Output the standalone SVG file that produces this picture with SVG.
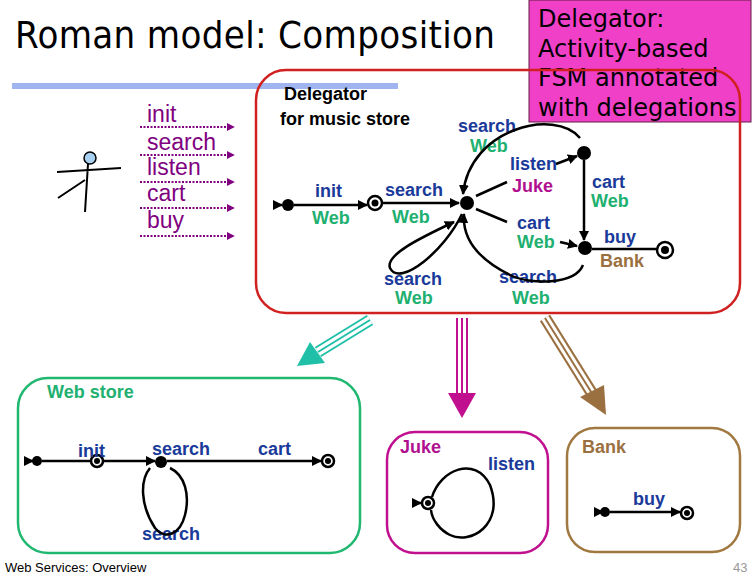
<svg xmlns="http://www.w3.org/2000/svg" width="756" height="576" viewBox="0 0 756 576">
<style>
.b{font-family:"Liberation Sans",Arial,sans-serif;font-weight:bold;font-size:18px}
.bl{fill:#1a3a9a}.gr{fill:#20b070}.pu{fill:#b0108f}.br{fill:#9b7040}
.e{stroke:#000;stroke-width:2.5;fill:none}
.dot{fill:#000}
.pl{font-family:"Liberation Sans",Arial,sans-serif;font-size:23px;fill:#800080}
.dl{stroke:#800080;stroke-width:2;stroke-dasharray:2,1.5}
</style>
<defs>
<marker id="a" viewBox="0 0 10 10" refX="9" refY="5" markerWidth="4" markerHeight="4" orient="auto"><path d="M0,0L10,5L0,10z" fill="#000"/></marker>
<marker id="p" viewBox="0 0 10 10" refX="9" refY="5" markerWidth="4" markerHeight="4" orient="auto"><path d="M0,0L10,5L0,10z" fill="#800080"/></marker>
</defs>
<rect width="756" height="576" fill="#fff"/>
<g id="title">
<text x="15" y="48" font-family="DejaVu Sans Condensed,DejaVu Sans,sans-serif" font-size="38" textLength="480">Roman model: Composition</text>
<rect x="12" y="83" width="386" height="6" fill="#a0b4f0"/>
</g>
<g id="note">
<rect x="529" y="0" width="222" height="122" fill="#f040c8" stroke="#602040"/>
<g font-family="DejaVu Sans,sans-serif" font-size="24" fill="#000">
<text x="538" y="27">Delegator:</text><text x="538" y="57">Activity-based</text><text x="538" y="86">FSM annotated</text><text x="538" y="116">with delegations</text></g>
</g>
<g id="client">
<circle cx="90" cy="158" r="6" fill="#a8d0f0" stroke="#000" stroke-width="1.5"/>
<path d="M88,164L85,212M57,172L121,168M58,198L85,180" stroke="#000" stroke-width="2" fill="none"/>
<text class="pl" x="147" y="122">init</text><text class="pl" x="147" y="150">search</text><text class="pl" x="147" y="175">listen</text><text class="pl" x="147" y="201">cart</text><text class="pl" x="147" y="228">buy</text>
<path class="dl" d="M140,127H234" marker-end="url(#p)"/><path class="dl" d="M140,155H234" marker-end="url(#p)"/><path class="dl" d="M140,182H234" marker-end="url(#p)"/><path class="dl" d="M140,208H234" marker-end="url(#p)"/><path class="dl" d="M140,236H234" marker-end="url(#p)"/>
</g>
<g id="delegator">
<rect x="256" y="70" width="484" height="243" rx="30" fill="none" stroke="#d02020" stroke-width="2.5"/>
<text class="b" x="284" y="100" fill="#000">Delegator</text><text class="b" x="280" y="125" fill="#000">for music store</text>
<circle class="dot" cx="288" cy="205" r="6"/><circle cx="375" cy="203" r="7" fill="#fff" stroke="#000" stroke-width="2.5"/><circle class="dot" cx="375" cy="203" r="3.5"/>
<circle class="dot" cx="467" cy="203" r="7"/><circle class="dot" cx="584" cy="153" r="7"/><circle class="dot" cx="585" cy="248" r="7"/>
<circle cx="665" cy="250" r="8" fill="#fff" stroke="#000" stroke-width="2.5"/><circle class="dot" cx="665" cy="250" r="4"/>
<text class="b bl" x="315" y="197">init</text><text class="b gr" x="312" y="224">Web</text>
<text class="b bl" x="385" y="196">search</text><text class="b gr" x="392" y="223">Web</text>
<text class="b bl" x="458" y="132">search</text><text class="b gr" x="470" y="152">Web</text>
<text class="b bl" x="510" y="170">listen</text><text class="b pu" x="512" y="192">Juke</text>
<text class="b bl" x="592" y="188">cart</text><text class="b gr" x="591" y="207">Web</text>
<text class="b bl" x="517" y="229">cart</text><text class="b gr" x="517" y="248">Web</text>
<text class="b bl" x="604" y="243">buy</text><text class="b br" x="600" y="267">Bank</text>
<text class="b bl" x="384" y="285">search</text><text class="b gr" x="395" y="304">Web</text>
<text class="b bl" x="499" y="283">search</text><text class="b gr" x="512" y="304">Web</text>
</g>
<g id="webstore">
<rect x="18" y="378" width="342" height="175" rx="30" fill="none" stroke="#20b870" stroke-width="2.5"/>
<text class="b gr" x="47" y="398">Web store</text>
<circle class="dot" cx="37" cy="461" r="5"/><circle cx="97" cy="461" r="6" fill="#fff" stroke="#000" stroke-width="2.5"/><circle class="dot" cx="97" cy="461" r="3"/>
<circle class="dot" cx="161" cy="462" r="6"/><circle cx="328" cy="461" r="6" fill="#fff" stroke="#000" stroke-width="2.5"/><circle class="dot" cx="328" cy="461" r="3"/>
<text class="b bl" x="78" y="457">init</text><text class="b bl" x="152" y="455">search</text><text class="b bl" x="258" y="455">cart</text><text class="b bl" x="142" y="540">search</text>
</g>
<g id="juke">
<rect x="387" y="432" width="161" height="121" rx="28" fill="none" stroke="#c0108f" stroke-width="2.5"/>
<text class="b pu" x="400" y="453">Juke</text><text class="b bl" x="488" y="470">listen</text>
<circle cx="428" cy="503" r="6" fill="#fff" stroke="#000" stroke-width="2.5"/><circle class="dot" cx="428" cy="503" r="3"/>
</g>
<g id="bank">
<rect x="567" y="428" width="173" height="124" rx="28" fill="none" stroke="#a07840" stroke-width="2.5"/>
<text class="b br" x="582" y="453">Bank</text><text class="b bl" x="633" y="505">buy</text>
<circle class="dot" cx="605" cy="512" r="5"/><circle cx="687" cy="513" r="6" fill="#fff" stroke="#000" stroke-width="2.5"/><circle class="dot" cx="687" cy="513" r="3"/>
</g>
<g id="connectors">
<path class="e" marker-end="url(#a)" d="M278,205H282"/>
<path class="e" marker-end="url(#a)" d="M294,205H367"/>
<path class="e" marker-end="url(#a)" d="M383,203H459"/>
<path class="e" d="M476,196L507,182"/><path class="e" marker-end="url(#a)" d="M556,164L577,156"/>
<path class="e" d="M476,209L507,222"/><path class="e" marker-end="url(#a)" d="M560,242L577,246"/>
<path class="e" marker-end="url(#a)" d="M584,160V240"/>
<path class="e" d="M592,249H657"/>
<path class="e" marker-end="url(#a)" d="M580,138C555,108 470,128 463,194"/>
<path class="e" marker-end="url(#a)" d="M462,214C445,250 400,288 390,268C385,255 420,238 454,222"/>
<path class="e" marker-end="url(#a)" d="M583,265C575,285 530,285 510,275C480,260 462,240 464,214"/>
<path class="e" marker-end="url(#a)" d="M27,461H33"/>
<path class="e" d="M42,461H91"/>
<path class="e" marker-end="url(#a)" d="M104,461H155"/>
<path class="e" marker-end="url(#a)" d="M167,461H321"/>
<path class="e" d="M170,468C185,475 190,495 185,515C180,535 165,540 155,528C140,505 140,480 150,468"/>
<path class="e" marker-end="url(#a)" d="M416,503H421"/>
<path class="e" d="M432,497C440,470 475,455 490,485C505,525 470,545 450,535C440,530 432,520 431,510"/>
<path class="e" marker-end="url(#a)" d="M597,512H603"/>
<path class="e" marker-end="url(#a)" d="M610,512H680"/>
<g>
<path d="M370,320L318,352" stroke="#20c0a8" stroke-width="12"/><path d="M370,320L318,352" stroke="#fff" stroke-width="8"/><path d="M370,320L318,352" stroke="#20c0a8" stroke-width="2"/>
<path d="M310,342L297,366L325,363Z" fill="#20c0a8"/>
<path d="M462,318V395" stroke="#c0108f" stroke-width="12"/><path d="M462,318V395" stroke="#fff" stroke-width="8"/><path d="M462,318V395" stroke="#c0108f" stroke-width="2"/>
<path d="M448,393L462,418L476,393Z" fill="#c0108f"/>
<path d="M545,318L593,395" stroke="#9b7040" stroke-width="12"/><path d="M545,318L593,395" stroke="#fff" stroke-width="8"/><path d="M545,318L593,395" stroke="#9b7040" stroke-width="2"/>
<path d="M580,397L606,415L604,385Z" fill="#9b7040"/>
</g>
</g>
<text x="5" y="572" font-family="Liberation Sans,Arial,sans-serif" font-size="13">Web Services: Overview</text>
<text x="733" y="572" font-family="Liberation Sans,Arial,sans-serif" font-size="13" fill="#999">43</text>
</svg>
